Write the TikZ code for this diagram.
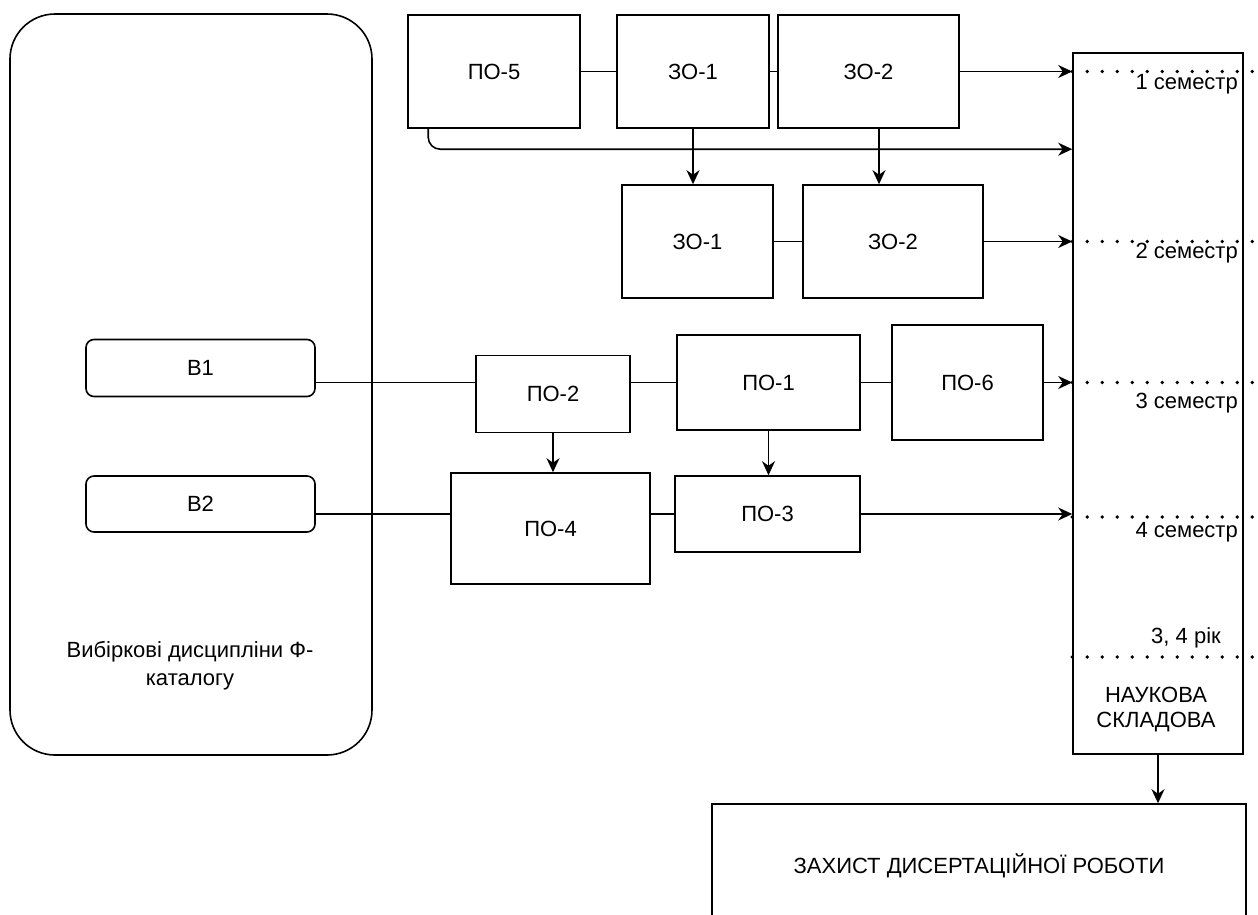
\documentclass[tikz,border=0pt]{standalone}
\usepackage{fontspec}
\setmainfont{Liberation Sans}
\usetikzlibrary{arrows.meta,calc}
\begin{document}
\begin{tikzpicture}[x=1pt,y=-1pt,
  box/.style={draw, line width=1.6pt, inner sep=0pt, align=center, font=\fontsize{22}{26}\selectfont},
  txt/.style={inner sep=0pt, align=center, font=\fontsize{22}{26}\selectfont},
  ln/.style={line width=1.6pt},
  arr/.style={line width=1.6pt, -{Stealth[length=14pt,width=13pt,inset=4.5pt]}},
  dotline/.style={line width=3.6pt, line cap=round, dash pattern=on 0pt off 15pt}]
\useasboundingbox (0,0) rectangle (1258,914);

% big catalogue box
\node[box, rounded corners=45pt, minimum width=362pt, minimum height=741pt] (cat) at (191,384.5) {};
\node[txt, font=\fontsize{22}{28}\selectfont] (cattxt) at (190,666) {Вибіркові дисципліни Ф-\\каталогу};
\node[box, rounded corners=8pt, minimum width=229pt, minimum height=57pt] (B1) at (200.5,368) {В1};
\node[box, rounded corners=8pt, minimum width=229pt, minimum height=56pt] (B2) at (200.5,504) {В2};

% top rows
\node[box, minimum width=172pt, minimum height=113pt] (PO5) at (494,71.5) {ПО-5};
\node[box, minimum width=152pt, minimum height=113pt] (ZO1a) at (693,71.5) {ЗО-1};
\node[box, minimum width=181pt, minimum height=113pt] (ZO2a) at (868.5,71.5) {ЗО-2};
\node[box, minimum width=151pt, minimum height=113pt] (ZO1b) at (697.5,241.5) {ЗО-1};
\node[box, minimum width=180pt, minimum height=113pt] (ZO2b) at (893,241.5) {ЗО-2};

% middle rows
\node[box, minimum width=154pt, minimum height=77pt] (PO2) at (553,394) {ПО-2};
\node[box, minimum width=183pt, minimum height=95pt] (PO1) at (768.5,382.5) {ПО-1};
\node[box, minimum width=151pt, minimum height=115pt] (PO6) at (967.5,382.5) {ПО-6};
\node[box, minimum width=199pt, minimum height=111pt] (PO4) at (550.5,528.5) {ПО-4};
\node[box, minimum width=185pt, minimum height=76pt] (PO3) at (767.5,514) {ПО-3};

% right column
\node[box, minimum width=170pt, minimum height=701pt] (nauk) at (1158,403.5) {};
\node[txt, font=\fontsize{22}{25}\selectfont] (nauktxt) at (1156,709) {НАУКОВА\\СКЛАДОВА};
\node[box, minimum width=534pt, minimum height=124pt] (zakh) at (979,866) {ЗАХИСТ ДИСЕРТАЦІЙНОЇ РОБОТИ};

% semester separators
\coordinate (s1) at (1258,71.5);
\coordinate (s2) at (1258,241.5);
\coordinate (s3) at (1258,382.5);
\coordinate (s4) at (1258,517);
\coordinate (s5) at (1258,657);
\draw[dotline] (nauk.west |- s1) -- (s1);
\draw[dotline] (nauk.west |- s2) -- (s2);
\draw[dotline] (nauk.west |- s3) -- (s3);
\draw[dotline] (nauk.west |- s4) -- (s4);
\draw[dotline] (nauk.west |- s5) -- (s5);
\node[txt, anchor=east] (l1) at (1238,84) {1 семестр};
\node[txt, anchor=east] (l2) at (1238,253) {2 семестр};
\node[txt, anchor=east] (l3) at (1238,403) {3 семестр};
\node[txt, anchor=east] (l4) at (1238,532) {4 семестр};
\node[txt] (l5) at (1186,638) {3, 4 рік};

% connectors top
\draw[ln] (PO5) -- (ZO1a);
\draw[ln] (ZO1a) -- (ZO2a);
\draw[arr] (ZO2a.east) -- (nauk.west |- ZO2a.east);
\draw[arr, rounded corners=12pt] ([xshift=21pt]PO5.south west) |- ($(nauk.north west)+(0,97)$);
\draw[arr] (ZO1a.south) -- (ZO1a.south |- ZO1b.north);
\draw[arr] ([xshift=10.5pt]ZO2a.south) -- ([xshift=10.5pt]ZO2a.south |- ZO2b.north);
\draw[ln] (ZO1b) -- (ZO2b);
\draw[arr] (ZO2b.east) -- (nauk.west |- ZO2b.east);

% connectors middle
\draw[ln] (B1.east |- PO1) -- (PO2.west |- PO1);
\draw[ln] (PO2.east |- PO1) -- (PO1.west);
\draw[ln] (PO1) -- (PO6);
\draw[arr] (PO6.east) -- (nauk.west |- PO6.east);
\draw[arr] (PO2.south) -- (PO2.south |- PO4.north);
\draw[arr] (PO1.south) -- (PO1.south |- PO3.north);
\draw[ln] (B2.east |- PO3) -- (PO4.west |- PO3);
\draw[ln] (PO4.east |- PO3) -- (PO3.west);
\draw[arr] (PO3.east) -- (nauk.west |- PO3.east);

% to defence
\draw[arr] (nauk.south) -- (nauk.south |- zakh.north);
\end{tikzpicture}
\end{document}
